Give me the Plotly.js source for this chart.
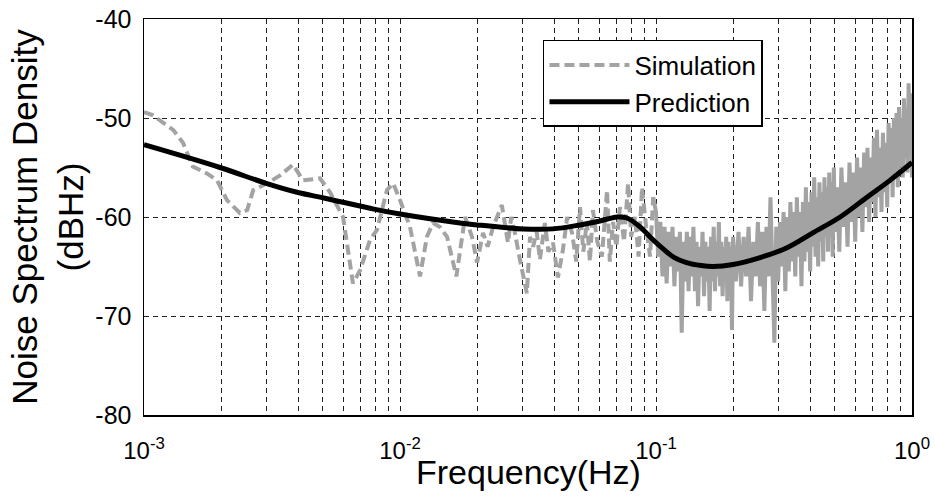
<!DOCTYPE html>
<html><head><meta charset="utf-8">
<script src="https://cdn.plot.ly/plotly-3.0.1.min.js"></script>
<style>html,body{margin:0;padding:0;background:#fff;}#chart{width:935px;height:496px;}</style>
</head><body><div id="chart"></div>
<script>
// Prediction curve (Hz, dB)
const predFreq = [0.001,0.00198,0.0030,0.00396,0.00509,0.00791,0.0100,0.01714,0.0200,0.0302,0.0396,0.0505,0.0604,0.0705,0.0771,0.0866,0.0973,0.1075,0.118,0.1315,0.150,0.167,0.200,0.255,0.325,0.410,0.524,0.667,0.820,1.0];
const predDb = [-52.7,-55.0,-56.6,-57.5,-58.1,-59.2,-59.7,-60.6,-60.8,-61.2,-61.2,-60.8,-60.4,-60.0,-60.1,-61.0,-62.3,-63.3,-64.1,-64.6,-64.9,-65.0,-64.8,-64.1,-63.1,-61.6,-60.0,-58.0,-56.3,-54.5];

// Simulation: low / mid frequency part
const simFreqLow = [0.00100,0.00108,0.00130,0.00142,0.00155,0.00176,0.00193,0.00211,0.00237,0.00253,0.00267,0.00302,0.00340,0.00382,0.00418,0.00487,0.00533,0.00599,0.00655,0.00698,0.00764,0.00813,0.00889,0.00940,0.0100,0.01094,0.01197,0.01274,0.01346,0.01432,0.01527,0.01660,0.01795,0.01911,0.0200,0.0211,0.0220,0.0231,0.0250,0.0264,0.0272,0.0281,0.0294,0.0313,0.0322,0.0331,0.0342,0.0352,0.0368,0.0380,0.0396,0.0414,0.0433,0.0450,0.0470,0.0488,0.0505,0.0520,0.0537,0.0552,0.0567,0.0590,0.0615,0.0630,0.0644,0.0660,0.0680,0.0700,0.0723,0.0750,0.0778,0.0800,0.0828,0.0855,0.0882,0.0915,0.0948,0.0975];
const simDbLow = [-49.4,-49.7,-51.2,-52.5,-54.9,-55.6,-56.3,-58.3,-59.6,-59.3,-57.3,-56.6,-55.8,-54.7,-56.3,-56.1,-57.5,-60.0,-66.7,-65.4,-62.3,-61.3,-57.3,-56.6,-58.3,-61.0,-66.0,-62.0,-60.6,-61.0,-62.0,-66.0,-60.0,-62.0,-64.6,-61.6,-63.0,-61.0,-58.8,-62.6,-60.0,-61.6,-64.3,-67.7,-62.0,-63.0,-61.5,-64.3,-60.6,-63.5,-62.6,-66.1,-63.3,-60.0,-61.6,-64.5,-59.0,-63.5,-60.5,-64.5,-59.3,-62.5,-64.0,-60.0,-57.3,-64.5,-60.5,-63.0,-59.0,-62.5,-56.6,-62.0,-60.0,-64.0,-57.0,-61.0,-64.0,-58.0];

// Simulation: high frequency part (dense)
const simFreqHigh = [
0.0975,0.100,0.102,0.104,0.106,0.108,0.110,0.112,0.114,0.116,0.118,
0.120,0.122,0.124,0.126,0.128,0.130,0.132,0.134,0.136,0.138,
0.140,0.142,0.144,0.146,0.148,0.150,0.152,0.154,0.156,0.158,
0.160,0.162,0.164,0.166,0.168,0.170,0.172,0.174,0.176,0.178,
0.180,0.182,0.184,0.186,0.188,0.190,0.192,0.194,0.196,0.198,0.200,
0.205,0.210,0.215,0.220,0.225,0.230,0.235,0.240,0.245,0.250,
0.255,0.260,0.265,0.270,0.275,0.280,0.285,0.290,0.295,0.300,
0.305,0.310,0.315,0.320,0.325,0.330,0.335,0.340,0.345,0.350,
0.355,0.360,0.365,0.370,0.375,0.380,0.385,0.390,0.395,0.400,
0.405,0.410,0.415,0.420,0.425,0.430,0.435,0.440,0.445,0.450,
0.455,0.460,0.465,0.470,0.475,0.480,0.485,0.490,0.495,0.500,
0.51,0.52,0.53,0.54,0.55,0.56,0.57,0.58,0.59,0.60,
0.61,0.62,0.63,0.64,0.65,0.66,0.67,0.68,0.69,0.70,
0.71,0.72,0.73,0.74,0.75,0.76,0.77,0.78,0.79,0.80,
0.81,0.82,0.83,0.84,0.85,0.86,0.87,0.88,0.89,0.90,
0.91,0.92,0.93,0.94,0.95,0.96,0.97,0.98,0.99,1.00];
const simDbHigh = [
-58.0,-59.5,-64.0,-60.5,-66.0,-61.0,-66.7,-61.5,-65.0,-61.0,-67.0,
-62.0,-65.5,-61.5,-71.7,-62.5,-66.5,-61.5,-67.5,-62.0,-66.0,
-61.0,-67.5,-62.5,-69.0,-63.0,-66.0,-61.5,-68.0,-62.5,-66.5,
-63.0,-69.5,-62.0,-66.5,-61.0,-67.5,-62.5,-66.0,-60.5,-67.0,
-62.5,-68.0,-63.0,-66.5,-62.0,-68.5,-62.5,-67.0,-63.0,-71.4,-62.0,
-66.5,-61.5,-67.0,-62.0,-66.0,-61.0,-68.5,-62.5,-66.0,-60.5,
-67.0,-61.5,-69.5,-61.0,-66.0,-58.0,-65.5,-72.7,-61.0,-66.5,
-60.5,-65.0,-59.5,-67.5,-60.0,-65.5,-58.5,-64.5,-59.5,-66.0,
-58.0,-64.0,-59.5,-67.0,-58.5,-64.5,-57.0,-63.5,-58.5,-65.5,
-57.5,-63.0,-56.0,-64.0,-58.0,-65.0,-56.5,-62.5,-57.5,-64.5,
-56.0,-62.0,-57.0,-63.5,-55.5,-62.0,-56.5,-64.0,-55.0,-61.5,
-57.0,-63.5,-55.0,-61.0,-56.5,-63.0,-54.5,-60.5,-55.5,-62.5,
-54.0,-60.0,-55.0,-61.5,-53.5,-59.0,-53.0,-60.5,-54.0,-58.5,
-52.0,-60.0,-51.2,-58.0,-53.0,-59.5,-51.5,-57.5,-52.5,-59.0,
-50.5,-56.5,-51.0,-58.0,-50.0,-55.5,-49.5,-57.0,-48.9,-55.0,
-50.0,-56.0,-48.0,-54.0,-49.0,-55.5,-46.5,-53.0,-47.5,-56.0];

// Axis ticks
const xTickVals = [0.001, 0.01, 0.1, 1];
const xTickLabels = ['10<sup>-3</sup>', '10<sup>-2</sup>', '10<sup>-1</sup>', '10<sup>0</sup>'];
const xMinorVals = [0.002,0.003,0.004,0.005,0.006,0.007,0.008,0.009,0.02,0.03,0.04,0.05,0.06,0.07,0.08,0.09,0.2,0.3,0.4,0.5,0.6,0.7,0.8,0.9];
const yTickVals = [-80, -70, -60, -50, -40];
const yTickLabels = ['-80', '-70', '-60', '-50', '-40'];
const xTitle = 'Frequency(Hz)';
const yTitle = 'Noise Spectrum Density<br>(dBHz)';

const FONT = 'Liberation Sans, Arial, sans-serif';
const GRID = '#222222';
const DASHG = '5px,4px';
const SIMCOL = '#a3a3a3';

const traces = [
  {x: simFreqLow, y: simDbLow, type: 'scatter', mode: 'lines', name: 'Simulation', legendgroup: 'sim',
   line: {color: SIMCOL, width: 4, dash: '10px,5px'}},
  {x: simFreqHigh, y: simDbHigh, type: 'scatter', mode: 'lines', name: 'Simulation', legendgroup: 'sim', showlegend: false,
   line: {color: SIMCOL, width: 4}},
  {x: predFreq, y: predDb, type: 'scatter', mode: 'lines', name: 'Prediction',
   line: {color: '#000000', width: 5, shape: 'spline', smoothing: 1}}
];

const layout = {
  width: 935, height: 496,
  margin: {l: 144, r: 23, t: 19, b: 81},
  paper_bgcolor: '#ffffff', plot_bgcolor: '#ffffff',
  font: {family: FONT, color: '#000'},
  showlegend: true,
  legend: {x: 0.5195, y: 0.947, xanchor: 'left', yanchor: 'top', itemwidth: 80,
           bgcolor: '#ffffff', bordercolor: '#000', borderwidth: 1.5,
           font: {family: FONT, size: 26, color: '#000'}, tracegroupgap: 0},
  xaxis: {type: 'log', range: [-3, 0], tickmode: 'array', tickvals: xTickVals, ticktext: xTickLabels,
          showgrid: true, gridcolor: GRID, griddash: DASHG, gridwidth: 1,
          minor: {tickmode: 'array', tickvals: xMinorVals, showgrid: true, gridcolor: GRID, griddash: DASHG, gridwidth: 1, ticks: ''},
          showline: true, mirror: true, linecolor: '#000', linewidth: 1.5, ticks: '', zeroline: false,
          tickfont: {family: FONT, size: 24, color: '#000'}, ticklabelstandoff: 14},
  yaxis: {range: [-80, -40], tickmode: 'array', tickvals: yTickVals, ticktext: yTickLabels,
          showgrid: true, gridcolor: GRID, griddash: DASHG, gridwidth: 1,
          showline: true, mirror: true, linecolor: '#000', linewidth: 1.5, ticks: '', zeroline: false,
          tickfont: {family: FONT, size: 25, color: '#000'}, ticklabelstandoff: 6,
          title: {text: yTitle, font: {family: FONT, size: 35, color: '#000'}, standoff: 1}},
  annotations: [
    {text: xTitle, xref: 'paper', yref: 'paper', x: 0.5, y: -0.145, xanchor: 'center', yanchor: 'middle',
     showarrow: false, font: {family: FONT, size: 34, color: '#000'}}
  ]
};

Plotly.newPlot('chart', traces, layout, {staticPlot: true, displayModeBar: false});
</script></body></html>
